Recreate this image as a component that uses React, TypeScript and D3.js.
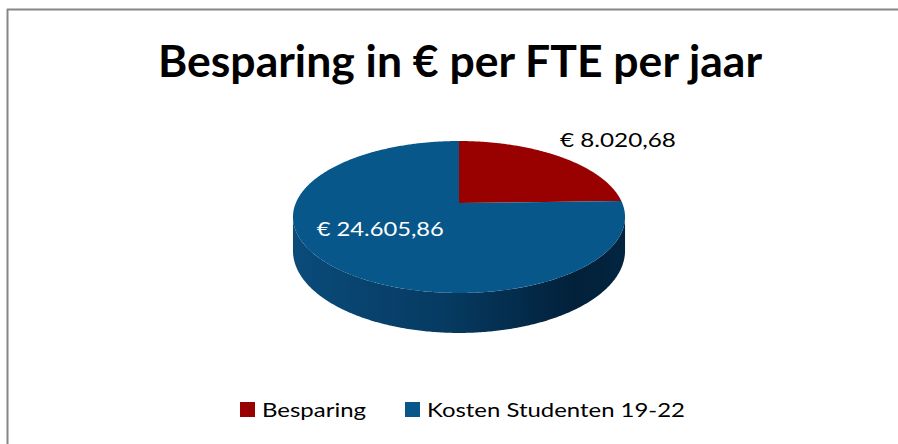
import React from "react";
import * as d3 from "d3";

const categories = ["Besparing", "Kosten Studenten 19-22"];
const values = [8020.68, 24605.86];
const valueLabels = ["€ 8.020,68", "€ 24.605,86"];
const title = "Besparing in € per FTE per jaar";

const W = 898, H = 444;
// perspective projection of the pie disc
const X0 = 459, Y0 = 203, A = 163.2, B = 73.4, K = 0.1842, D = 32.6;
const topColors = ["#990000", "#07578A"];
const labelFx = [1.58, 0.6];
const labelFy = [1.36, 0.43];
const labelColor = ["#000000", "#ffffff"];
const labelWidth = [116, 127];
const FONT = "Lato, 'Open Sans', sans-serif";

const proj = (theta: number, r = 1, down = 0): [number, number] => {
  const u = r * Math.sin(theta), v = -r * Math.cos(theta);
  const w = 1 - K * v;
  return [X0 + (A * u) / w, Y0 + (B * v) / w + (down * D) / w];
};

const sample = (a1: number, a2: number, down = 0) => {
  const n = Math.max(2, Math.ceil(Math.abs(a2 - a1) / 0.01));
  const pts: [number, number][] = [];
  for (let i = 0; i <= n; i++) pts.push(proj(a1 + ((a2 - a1) * i) / n, 1, down));
  return pts;
};

export default function App() {
  const pie = d3.pie<number>().sort(null).value((d) => d);
  const arcs = pie(values);
  const line = d3.line();

  const topPath = (a1: number, a2: number) => {
    const pts: [number, number][] = [[X0, Y0], ...sample(a1, a2)];
    return line(pts) + "Z";
  };
  const eL = Math.acos(-K), eR = 2 * Math.PI - Math.acos(-K);
  const sidePath = (s: number, e: number) => {
    const a1 = Math.max(s, eL), a2 = Math.min(e, eR);
    if (a2 <= a1) return null;
    const pts = [...sample(a1, a2, 0), ...sample(a2, a1, 1)];
    return line(pts) + "Z";
  };

  return (
    <svg width={W} height={H} style={{ position: "absolute", left: 0, top: 0 }}>
      <defs>
        <linearGradient id="sideBlue" x1={X0 - 166} x2={X0 + 166} y1="0" y2="0" gradientUnits="userSpaceOnUse">
          <stop offset="0" stopColor="#0a4b7a" />
          <stop offset="0.45" stopColor="#063b62" />
          <stop offset="0.85" stopColor="#02203a" />
          <stop offset="1" stopColor="#03253f" />
        </linearGradient>
        <linearGradient id="sideRed" x1={X0 - 166} x2={X0 + 166} y1="0" y2="0" gradientUnits="userSpaceOnUse">
          <stop offset="0" stopColor="#7a0000" />
          <stop offset="1" stopColor="#3a0000" />
        </linearGradient>
      </defs>
      <rect x={0} y={0} width={W} height={H} fill="#fff" />
      <line x1={7.5} y1={9} x2={7.5} y2={H} stroke="#868686" strokeWidth={2} />
      <line x1={7} y1={9.5} x2={W} y2={9.5} stroke="#868686" strokeWidth={2} />

      <text x={460} y={77} textAnchor="middle" fontFamily={FONT} fontWeight="bold" fontSize={43}
        textLength={604} lengthAdjust="spacingAndGlyphs" fill="#000">{title}</text>

      {arcs.map((a, i) => {
        const d = sidePath(a.startAngle, a.endAngle);
        return d ? <path key={"s" + i} d={d} fill={i === 0 ? "url(#sideRed)" : "url(#sideBlue)"} /> : null;
      })}
      {arcs.map((a, i) => (
        <path key={"t" + i} d={topPath(a.startAngle, a.endAngle)} fill={topColors[i]} />
      ))}

      {arcs.map((a, i) => {
        const mid = (a.startAngle + a.endAngle) / 2;
        const p = proj(mid);
        const x = X0 + (p[0] - X0) * labelFx[i];
        const y = Y0 + (p[1] - Y0) * labelFy[i];
        return (
          <text key={"l" + i} x={x} y={y + 7} textAnchor="middle" fontFamily={FONT} fontSize={20}
            fill={labelColor[i]} textLength={labelWidth[i]} lengthAdjust="spacingAndGlyphs">{valueLabels[i]}</text>
        );
      })}

      {categories.map((c, i) => {
        const xs = [240, 405];
        const tw = [104, 258];
        return (
          <g key={"g" + i}>
            <rect x={xs[i]} y={402} width={15} height={15} fill={topColors[i]} />
            <text x={xs[i] + 22} y={417} fontFamily={FONT} fontSize={20} fill="#000"
              textLength={tw[i]} lengthAdjust="spacingAndGlyphs">{c}</text>
          </g>
        );
      })}
    </svg>
  );
}
